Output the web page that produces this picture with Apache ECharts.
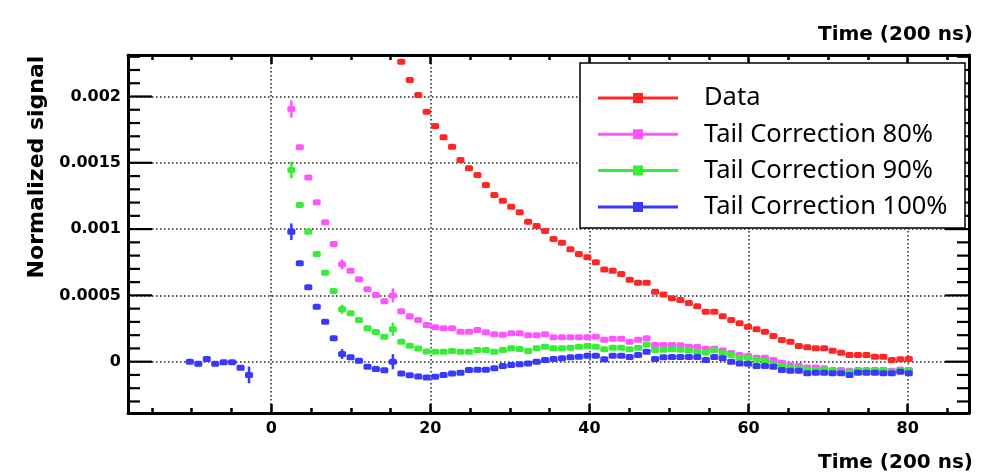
<!DOCTYPE html>
<html><head><meta charset="utf-8">
<script src="https://cdn.jsdelivr.net/npm/echarts@6/dist/echarts.min.js"></script>
<style>html,body{margin:0;padding:0;background:#fff}#c{width:992px;height:475px}</style>
</head><body><div id="c"></div>
<script>
const seriesNames = ['Data', 'Tail Correction 80%', 'Tail Correction 90%', 'Tail Correction 100%'];
const seriesColors = ['#ff2626', '#ff55ff', '#35ee35', '#3838ff'];

// samples before the pulse (all series coincide; drawn with the 100% series on top)
const preTimes = [-10.23, -9.16, -8.10, -7.04, -5.97, -4.91, -3.85, -2.79];
const preValues = [0.000000, -0.000015, 0.000020, -0.000015, -0.000005, -0.000005, -0.000045, -0.000100];

const times = [2.53, 3.59, 4.66, 5.72, 6.78, 7.85, 8.91, 9.97, 11.03, 12.10,
  13.16, 14.22, 15.29, 16.35, 17.41, 18.48, 19.54, 20.60, 21.66, 22.73,
  23.79, 24.85, 25.92, 26.98, 28.04, 29.11, 30.17, 31.23, 32.29, 33.36,
  34.42, 35.48, 36.55, 37.61, 38.67, 39.74, 40.80, 41.86, 42.92, 43.99,
  45.05, 46.11, 47.18, 48.24, 49.30, 50.37, 51.43, 52.49, 53.55, 54.62,
  55.68, 56.74, 57.81, 58.87, 59.93, 61.00, 62.06, 63.12, 64.18, 65.25,
  66.31, 67.37, 68.44, 69.50, 70.56, 71.63, 72.69, 73.75, 74.81, 75.88,
  76.94, 78.00, 79.07, 80.13];

const dataValues = [null, null, null, null, null, null, null, null, null, null,
  null, null, null, 0.002262, 0.002124, 0.002011, 0.001885, 0.001778, 0.001692, 0.001621,
  0.001521, 0.001458, 0.001408, 0.001333, 0.001257, 0.001214, 0.001169, 0.001127, 0.001056, 0.001023,
  0.000986, 0.000925, 0.000897, 0.000848, 0.000812, 0.000787, 0.000750, 0.000696, 0.000685, 0.000661,
  0.000618, 0.000596, 0.000596, 0.000528, 0.000506, 0.000478, 0.000465, 0.000442, 0.000418, 0.000377,
  0.000377, 0.000342, 0.000314, 0.000290, 0.000264, 0.000245, 0.000226, 0.000194, 0.000163, 0.000151,
  0.000118, 0.000108, 0.000101, 0.000101, 0.000083, 0.000068, 0.000050, 0.000050, 0.000050, 0.000038,
  0.000038, 0.000013, 0.000018, 0.000020];

const tail80 = [0.001906, 0.001617, 0.001390, 0.001202, 0.001051, 0.000888, 0.000734, 0.000686, 0.000621, 0.000546,
  0.000503, 0.000455, 0.000500, 0.000380, 0.000342, 0.000314, 0.000277, 0.000260, 0.000252, 0.000252,
  0.000226, 0.000226, 0.000239, 0.000222, 0.000206, 0.000203, 0.000214, 0.000214, 0.000200, 0.000200,
  0.000206, 0.000184, 0.000184, 0.000184, 0.000184, 0.000184, 0.000188, 0.000165, 0.000173, 0.000173,
  0.000151, 0.000166, 0.000176, 0.000126, 0.000126, 0.000126, 0.000124, 0.000113, 0.000110, 0.000097,
  0.000097, 0.000085, 0.000066, 0.000050, 0.000042, 0.000030, 0.000030, 0.000013, -0.000008, -0.000025,
  -0.000033, -0.000043, -0.000043, -0.000050, -0.000063, -0.000063, -0.000068, -0.000063, -0.000063, -0.000063,
  -0.000063, -0.000068, -0.000058, -0.000063];

const tail90 = [0.001446, 0.001182, 0.000980, 0.000812, 0.000671, 0.000533, 0.000395, 0.000365, 0.000314, 0.000252,
  0.000224, 0.000189, 0.000245, 0.000151, 0.000120, 0.000100, 0.000077, 0.000074, 0.000074, 0.000080,
  0.000075, 0.000075, 0.000088, 0.000088, 0.000075, 0.000088, 0.000101, 0.000096, 0.000081, 0.000101,
  0.000113, 0.000101, 0.000101, 0.000106, 0.000113, 0.000118, 0.000113, 0.000093, 0.000106, 0.000106,
  0.000093, 0.000106, 0.000130, 0.000088, 0.000090, 0.000093, 0.000090, 0.000085, 0.000075, 0.000070,
  0.000088, 0.000064, 0.000050, 0.000030, 0.000030, 0.000015, 0.000005, -0.000018, -0.000033, -0.000043,
  -0.000050, -0.000058, -0.000063, -0.000058, -0.000068, -0.000075, -0.000075, -0.000068, -0.000068, -0.000068,
  -0.000068, -0.000075, -0.000063, -0.000068];

const tail100 = [0.000980, 0.000742, 0.000561, 0.000415, 0.000302, 0.000176, 0.000058, 0.000033, 0.000008, -0.000038,
  -0.000055, -0.000065, 0.000000, -0.000090, -0.000103, -0.000112, -0.000120, -0.000113, -0.000100, -0.000090,
  -0.000083, -0.000063, -0.000060, -0.000060, -0.000050, -0.000033, -0.000025, -0.000020, -0.000013, 0.000000,
  0.000013, 0.000020, 0.000025, 0.000033, 0.000038, 0.000045, 0.000045, 0.000018, 0.000045, 0.000045,
  0.000036, 0.000050, 0.000075, 0.000020, 0.000033, 0.000035, 0.000035, 0.000035, 0.000035, 0.000013,
  0.000035, 0.000025, 0.000000, -0.000013, -0.000015, -0.000033, -0.000033, -0.000038, -0.000063, -0.000068,
  -0.000068, -0.000088, -0.000083, -0.000083, -0.000088, -0.000088, -0.000100, -0.000083, -0.000083, -0.000083,
  -0.000088, -0.000088, -0.000075, -0.000088];

// vertical error bars (half-widths) at a few sample indices
const errIndex = [0, 6, 12];
const err80 = [0.000065, 0.000037, 0.000053];
const err90 = [0.000063, 0.000035, 0.000050];
const err100 = [0.000063, 0.000037, 0.000057];
const preErrIndex = 7;
const preErr = 0.000063;

const xTickLabels = ['0', '20', '40', '60', '80'];
// tick positions of the left/right frame (major ticks carry the labels)
const yMajorTicks = [0, 0.0005, 0.001, 0.0015, 0.002];
const yMinorTicks = [-0.0003, -0.0002, -0.0001, 0.0001, 0.0002, 0.0003, 0.0004, 0.0006, 0.0007, 0.0008, 0.0009,
  0.0011, 0.0012, 0.0013, 0.0014, 0.0016, 0.0017, 0.0018, 0.0019, 0.0021, 0.0022, 0.0023];

const xMin = -18, xMax = 87.7, yMin = -0.000387, yMax = 0.002313;

function toPoints(vals) {
  const out = [];
  times.forEach((t, i) => { if (vals[i] != null) out.push([t, vals[i]]); });
  return out;
}
function errPoints(vals, errs, withPre) {
  const out = errIndex.map((k, j) => [times[k], vals[k], errs[j]]);
  if (withPre) out.push([preTimes[preErrIndex], preValues[preErrIndex], preErr]);
  return out;
}

const chart = echarts.init(document.getElementById('c'), null, { renderer: 'canvas' });
const allVals = [dataValues, tail80, tail90, tail100];
const allErrs = [null, err80, err90, err100];

const scatterSeries = allVals.map((vals, i) => {
  let pts = toPoints(vals);
  if (i === 3) pts = preTimes.map((t, j) => [t, preValues[j]]).concat(pts);
  return {
    name: seriesNames[i], type: 'scatter', data: pts,
    symbol: 'roundRect', symbolSize: [8, 6],
    itemStyle: { color: seriesColors[i], opacity: 1 },
    z: 2 + i, silent: true, animation: false
  };
});
const errSeries = [1, 2, 3].map(i => ({
  name: 'err' + i, type: 'custom', z: 2 + i, silent: true, animation: false,
  data: errPoints(allVals[i], allErrs[i], i === 3),
  encode: { x: 0, y: 1 },
  renderItem: function (params, api) {
    const t = api.value(0), v = api.value(1), e = api.value(2);
    const a = api.coord([t, v + e]), b = api.coord([t, v - e]);
    return { type: 'line', shape: { x1: a[0], y1: a[1], x2: b[0], y2: b[1] },
      style: { stroke: seriesColors[i], lineWidth: 2.5 } };
  }
}));
// inward y ticks on both frame sides, placed through the y scale
const yTickSeries = {
  name: 'yTicks', type: 'custom', z: 6, silent: true, animation: false, clip: false,
  data: yMajorTicks.map(v => [xMin, v, 24]).concat(yMinorTicks.map(v => [xMin, v, 12])),
  encode: { x: 0, y: 1 },
  renderItem: function (params, api) {
    const v = api.value(1), len = api.value(2);
    const l = api.coord([xMin, v]), r = api.coord([xMax, v]);
    return { type: 'group', children: [
      { type: 'line', shape: { x1: l[0], y1: l[1], x2: l[0] + len, y2: l[1] }, style: { stroke: '#000', lineWidth: 2.2 } },
      { type: 'line', shape: { x1: r[0], y1: r[1], x2: r[0] - len, y2: r[1] }, style: { stroke: '#000', lineWidth: 2.2 } }
    ] };
  }
};

const labelFont = { fontFamily: 'DejaVu Sans', fontWeight: 'bold', fontSize: 16, color: '#000' };
function gridLine() { return { show: true, lineStyle: { color: '#222', type: [1.5, 2.5], width: 1.5 } }; }
function tickStyle() { return { color: '#000', width: 2.5 }; }
function frameLine() { return { show: true, onZero: false, lineStyle: { color: '#000', width: 3 } }; }
function xTicks() { return { show: true, inside: true, length: 9, lineStyle: tickStyle() }; }
function xMinor() { return { show: true, splitNumber: 4, length: 5, lineStyle: tickStyle() }; }

const option = {
  animation: false,
  backgroundColor: '#fff',
  grid: { left: 128, right: 23, top: 55, bottom: 62, containLabel: false },
  xAxis: [
    { type: 'value', min: xMin, max: xMax, splitNumber: 5, position: 'bottom',
      axisLine: frameLine(), axisTick: xTicks(), minorTick: xMinor(),
      axisLabel: Object.assign({ margin: 8, showMinLabel: false, showMaxLabel: false,
        formatter: v => xTickLabels.indexOf(String(v)) >= 0 ? String(v) : '' }, labelFont),
      splitLine: gridLine() },
    { type: 'value', min: xMin, max: xMax, splitNumber: 5, position: 'top',
      axisLine: frameLine(), axisTick: xTicks(), minorTick: xMinor(),
      axisLabel: { show: false }, splitLine: { show: false } }
  ],
  yAxis: [
    { type: 'value', min: yMin, max: yMax, splitNumber: 5, position: 'left',
      axisLine: frameLine(), axisTick: { show: false }, minorTick: { show: false },
      axisLabel: Object.assign({ margin: 7, showMinLabel: false, showMaxLabel: false }, labelFont),
      splitLine: gridLine() },
    { type: 'value', min: yMin, max: yMax, splitNumber: 5, position: 'right',
      axisLine: frameLine(), axisTick: { show: false }, minorTick: { show: false },
      axisLabel: { show: false }, splitLine: { show: false } }
  ],
  legend: {
    data: seriesNames, orient: 'vertical', left: 593, top: 80,
    itemWidth: 80, itemHeight: 10, itemGap: 10.3,
    icon: 'path://M0,3.5L80,3.5L80,6.5L0,6.5Z M35,0L45,0L45,10L35,10Z',
    selectedMode: false, z: 10,
    textStyle: { fontFamily: 'Noto Sans', fontSize: 25.5, color: '#000', padding: [0, 0, 0, 21], lineHeight: 24 }
  },
  graphic: [
    { type: 'rect', z: 8, shape: { x: 580, y: 63, width: 385, height: 165 },
      style: { fill: '#fff', stroke: '#000', lineWidth: 1.5 } },
    { type: 'text', x: 973, y: 35, style: { text: 'Time (200 ns)', align: 'right', verticalAlign: 'middle',
      font: 'bold 20px "DejaVu Sans"', fill: '#000' } },
    { type: 'text', x: 973, y: 463, style: { text: 'Time (200 ns)', align: 'right', verticalAlign: 'middle',
      font: 'bold 20px "DejaVu Sans"', fill: '#000' } },
    { type: 'text', x: 37, y: 167, rotation: Math.PI / 2, style: { text: 'Normalized signal', align: 'center',
      verticalAlign: 'middle', font: 'bold 22px "DejaVu Sans"', fill: '#000' } }
  ],
  series: scatterSeries.concat(errSeries).concat([yTickSeries])
};
chart.setOption(option);
</script></body></html>
